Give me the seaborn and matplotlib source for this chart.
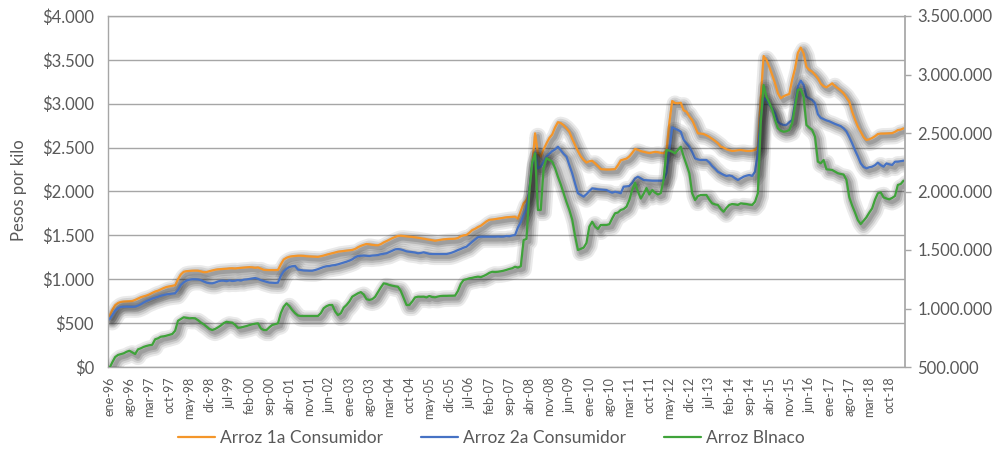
import matplotlib
matplotlib.use("Agg")
import matplotlib.pyplot as plt
import matplotlib.patheffects as pe
from matplotlib.lines import Line2D
from matplotlib.ticker import FuncFormatter, MultipleLocator
import seaborn as sns
import pandas as pd

# meses desde ene-96
meses = ['ene', 'feb', 'mar', 'abr', 'may', 'jun', 'jul', 'ago', 'sep', 'oct', 'nov', 'dic']

# pesos por kilo
arroz_1a = [
    581, 650, 705, 730, 742, 746, 748, 750, 752, 765, 780, 795,
    805, 815, 828, 845, 860, 870, 885, 900, 912, 918, 925, 932,
    1000, 1055, 1085, 1092, 1095, 1097, 1098, 1097, 1090, 1080, 1082, 1092,
    1100, 1108, 1113, 1115, 1118, 1120, 1124, 1125, 1122, 1127, 1130, 1132,
    1135, 1138, 1136, 1130, 1135, 1122, 1108, 1105, 1104, 1105, 1104, 1106,
    1170, 1225, 1245, 1257, 1262, 1265, 1268, 1268, 1266, 1262, 1260, 1258,
    1257, 1255, 1262, 1270, 1280, 1288, 1296, 1305, 1314, 1318, 1322, 1326,
    1330, 1334, 1345, 1365, 1380, 1392, 1402, 1398, 1392, 1388, 1387, 1400,
    1420, 1435, 1452, 1468, 1482, 1494, 1496, 1492, 1488, 1485, 1482, 1478,
    1473, 1468, 1462, 1456, 1450, 1445, 1439, 1445, 1450, 1455, 1458, 1460,
    1460, 1462, 1470, 1490, 1500, 1505, 1530, 1560, 1575, 1595, 1610, 1635,
    1660, 1678, 1680, 1685, 1690, 1694, 1700, 1706, 1708, 1710, 1713, 1690,
    1780, 1866, 1903, 1980, 2283, 2663, 2435, 2397, 2480, 2549, 2610, 2650,
    2730, 2790, 2780, 2755, 2720, 2680, 2600, 2530, 2460, 2400, 2360, 2330,
    2345, 2350, 2320, 2290, 2255, 2252, 2250, 2250, 2252, 2255, 2300, 2355,
    2365, 2375, 2400, 2440, 2485, 2475, 2460, 2452, 2445, 2438, 2445, 2452,
    2448, 2440, 2436, 2470, 2780, 3031, 3008, 3005, 3012, 2925, 2910, 2855,
    2815, 2740, 2663, 2660, 2655, 2640, 2622, 2600, 2576, 2550, 2511, 2500,
    2481, 2470, 2462, 2465, 2470, 2473, 2468, 2462, 2462, 2465, 2473, 2511,
    3050, 3544, 3500, 3420, 3330, 3233, 3120, 3062, 3085, 3100, 3111, 3271,
    3400, 3580, 3640, 3575, 3420, 3385, 3366, 3330, 3290, 3230, 3200, 3187,
    3210, 3233, 3200, 3176, 3150, 3119, 3070, 3024, 2910, 2820, 2740, 2680,
    2620, 2587, 2595, 2610, 2630, 2655, 2660, 2660, 2662, 2663, 2665, 2680,
    2700, 2705, 2720,
]

arroz_2a = [
    543, 590, 640, 670, 685, 687, 688, 687, 686, 688, 700, 715,
    735, 752, 765, 780, 790, 800, 812, 820, 828, 832, 836, 840,
    880, 935, 965, 985, 995, 1000, 1000, 998, 991, 975, 962, 955,
    954, 962, 975, 983, 983, 978, 986, 980, 983, 990, 985, 995,
    998, 1003, 1008, 1014, 1005, 990, 980, 970, 962, 960, 958, 961,
    1040, 1090, 1120, 1140, 1148, 1151, 1110, 1105, 1100, 1098, 1097, 1097,
    1105, 1115, 1128, 1140, 1148, 1151, 1158, 1162, 1170, 1180, 1190, 1200,
    1212, 1227, 1250, 1265, 1268, 1270, 1268, 1265, 1270, 1272, 1276, 1285,
    1290, 1296, 1310, 1325, 1340, 1345, 1340, 1330, 1318, 1314, 1310, 1305,
    1296, 1300, 1307, 1298, 1290, 1288, 1288, 1287, 1288, 1288, 1288, 1295,
    1305, 1318, 1333, 1345, 1360, 1371, 1400, 1428, 1455, 1480, 1485, 1485,
    1485, 1485, 1486, 1485, 1487, 1485, 1486, 1493, 1490, 1498, 1504, 1590,
    1650, 1732, 1808, 2017, 2300, 2442, 2264, 2283, 2340, 2400, 2430, 2460,
    2480, 2511, 2470, 2430, 2397, 2300, 2207, 2090, 1980, 1960, 1941, 1970,
    2005, 2036, 2030, 2025, 2022, 2018, 2017, 2000, 1986, 1998, 1990, 1980,
    2055, 2058, 2063, 2100, 2150, 2169, 2150, 2131, 2128, 2125, 2123, 2123,
    2123, 2123, 2125, 2210, 2473, 2732, 2715, 2701, 2682, 2590, 2549, 2510,
    2450, 2378, 2365, 2359, 2360, 2359, 2330, 2290, 2260, 2225, 2207, 2190,
    2177, 2183, 2175, 2150, 2131, 2150, 2169, 2180, 2188, 2177, 2226, 2450,
    2850, 3062, 3043, 2990, 2950, 2891, 2795, 2770, 2758, 2758, 2790, 2815,
    3005, 3200, 3263, 3214, 3081, 3060, 3043, 3005, 2880, 2840, 2825, 2810,
    2800, 2785, 2770, 2758, 2745, 2720, 2685, 2620, 2549, 2470, 2400, 2321,
    2280, 2264, 2276, 2283, 2300, 2329, 2300, 2283, 2320, 2310, 2302, 2340,
    2340, 2345, 2351,
]

# miles de pesos (eje derecho)
arroz_blanco = [
    490, 540, 585, 603, 610, 617, 630, 639, 625, 611, 651, 660,
    672, 680, 686, 690, 737, 745, 759, 762, 768, 775, 782, 810,
    895, 910, 925, 920, 916, 918, 916, 900, 880, 865, 845, 825,
    816, 825, 839, 855, 875, 887, 882, 879, 860, 835, 838, 844,
    850, 858, 865, 870, 873, 830, 816, 816, 840, 859, 866, 873,
    960, 1015, 1044, 1020, 987, 960, 940, 936, 936, 936, 936, 936,
    936, 936, 960, 1002, 1020, 1030, 1030, 975, 944, 959, 1007, 1030,
    1060, 1101, 1115, 1130, 1140, 1120, 1080, 1073, 1080, 1100, 1140, 1180,
    1215, 1210, 1201, 1195, 1190, 1186, 1150, 1090, 1030, 1030, 1060, 1095,
    1101, 1100, 1101, 1095, 1107, 1098, 1096, 1102, 1107, 1108, 1108, 1109,
    1109, 1110, 1150, 1210, 1244, 1250, 1258, 1262, 1268, 1272, 1268, 1278,
    1290, 1305, 1314, 1312, 1314, 1318, 1323, 1330, 1338, 1344, 1357, 1350,
    1360, 1585, 1595, 2000, 2250, 2326, 1842, 1842, 2200, 2284, 2270, 2255,
    2200, 2126, 2060, 1985, 1910, 1842, 1760, 1620, 1500, 1510, 1520, 1560,
    1700, 1742, 1700, 1680, 1714, 1714, 1714, 1720, 1770, 1814, 1820, 1842,
    1850, 1870, 1927, 2013, 2075, 2000, 1940, 1980, 2030, 1975, 2013, 1990,
    1975, 1985, 2100, 2355, 2350, 2340, 2326, 2355, 2383, 2300, 2230, 2156,
    1985, 1927, 1960, 1970, 1970, 1970, 1930, 1899, 1890, 1885, 1850, 1827,
    1860, 1885, 1893, 1890, 1885, 1899, 1895, 1893, 1888, 1885, 1913, 1985,
    2583, 2910, 2810, 2760, 2700, 2611, 2540, 2520, 2511, 2515, 2526, 2583,
    2725, 2868, 2874, 2810, 2568, 2545, 2526, 2468, 2255, 2241, 2269, 2190,
    2187, 2184, 2170, 2156, 2150, 2145, 2100, 1950, 1880, 1820, 1755, 1722,
    1750, 1780, 1820, 1856, 1930, 1985, 1993, 1950, 1940, 1933, 1945, 1962,
    2056, 2064, 2093,
]

series = ['Arroz 1a Consumidor', 'Arroz 2a Consumidor', 'Arroz Blnaco']
colores = ['#F4962A', '#4672C4', '#3FA33A']
gris = '#595959'
linea = '#a6a6a6'

n = len(arroz_1a)
df = pd.DataFrame({'mes': range(n), 'a1': arroz_1a, 'a2': arroz_2a, 'blanco': arroz_blanco})
etiquetas = [f"{meses[i % 12]}-{(96 + i // 12) % 100:02d}" for i in range(0, n, 7)]


def sombra():
    # sombra difusa tipo Excel
    return [pe.SimpleLineShadow(offset=(2, -2), shadow_color='k', alpha=0.09, linewidth=12),
            pe.SimpleLineShadow(offset=(2, -2), shadow_color='k', alpha=0.11, linewidth=9),
            pe.SimpleLineShadow(offset=(2, -2), shadow_color='k', alpha=0.14, linewidth=6),
            pe.SimpleLineShadow(offset=(2, -2), shadow_color='k', alpha=0.16, linewidth=3),
            pe.Normal()]


sns.set_theme(style='white')
plt.rcParams['font.family'] = ['Lato', 'DejaVu Sans']

fig = plt.figure(figsize=(9.97, 4.55), dpi=100)
ax = fig.add_axes([108 / 997, 1 - 367 / 455, 797 / 997, 351 / 455])
ax2 = ax.twinx()

sns.lineplot(data=df, x='mes', y='a1', ax=ax, color=colores[0], lw=1.6, path_effects=sombra())
sns.lineplot(data=df, x='mes', y='a2', ax=ax, color=colores[1], lw=1.6, path_effects=sombra())
sns.lineplot(data=df, x='mes', y='blanco', ax=ax2, color=colores[2], lw=1.6, path_effects=sombra())

ax.set_xlim(-0.5, n - 0.5)
ax.set_ylim(0, 4000)
ax2.set_ylim(500, 3500)
ax.yaxis.set_major_locator(MultipleLocator(500))
ax2.yaxis.set_major_locator(MultipleLocator(500))
ax.yaxis.set_major_formatter(FuncFormatter(lambda v, _: '$' + f'{v:,.0f}'.replace(',', '.')))
ax2.yaxis.set_major_formatter(FuncFormatter(lambda v, _: f'{v * 1000:,.0f}'.replace(',', '.')))
ax.set_xticks(range(0, n, 7))
ax.set_xticklabels(etiquetas, rotation=90)

ax.set_xlabel('')
ax.set_ylabel('')
ax2.set_ylabel('')
ax.yaxis.grid(True, color=linea, lw=1)
ax.set_axisbelow(True)
ax2.grid(False)

for s in ax.spines.values():
    s.set_color(linea)
    s.set_linewidth(1)
ax.spines['right'].set_visible(False)
for k, s in ax2.spines.items():
    s.set_visible(k == 'right')
ax2.spines['right'].set_color(linea)

ax.tick_params(axis='y', length=0, labelsize=12, labelcolor=gris, pad=10)
ax.tick_params(axis='x', length=0, labelsize=9, labelcolor=gris, pad=7)
ax2.tick_params(axis='y', length=4, width=1, color=linea, labelsize=12, labelcolor=gris, pad=5)

fig.text(19 / 997, 1 - 190 / 455, 'Pesos por kilo', rotation=90, ha='center', va='center',
         fontsize=12, color=gris)

handles = [Line2D([], [], color=c, lw=1.6) for c in colores]
fig.legend(handles, series, loc='center', bbox_to_anchor=(0.493, 1 - 438 / 455), ncol=3,
           frameon=False, fontsize=12.5, handlelength=2.1, columnspacing=2.2,
           handletextpad=0.3, labelcolor=gris)

fig.savefig('out.png', dpi=100)
